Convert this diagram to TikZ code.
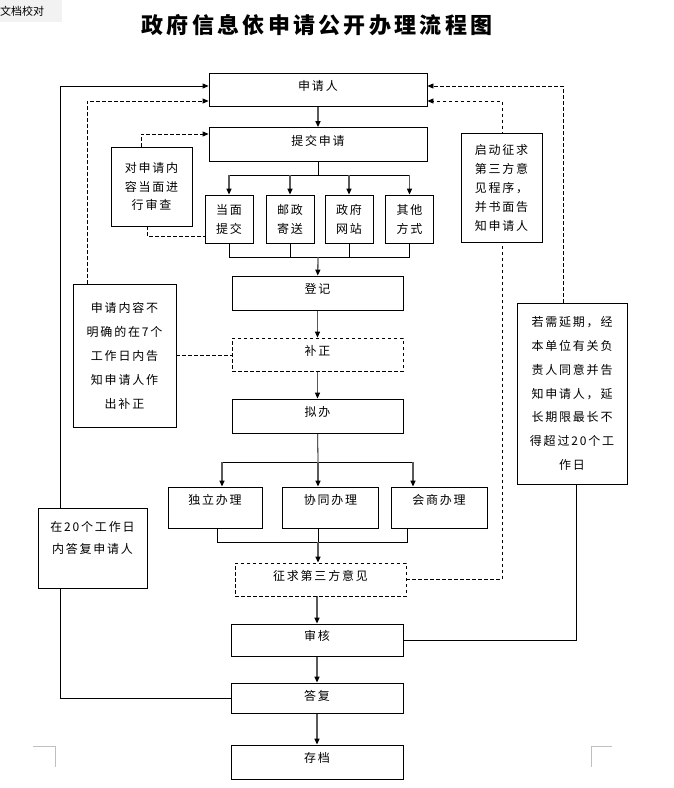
\documentclass[tikz,border=0pt]{standalone}
\usepackage{fontspec}
\setmainfont{Noto Sans CJK SC}[LetterSpace=15]
\usetikzlibrary{arrows.meta, backgrounds}
\tikzstyle{process} = [rectangle, draw=black, line width=0.8pt, fill=white, inner sep=0pt, text centered, text depth=9pt, font=\fontsize{12}{19}\selectfont]
\tikzstyle{pending} = [process, dash pattern=on 3.5pt off 2.5pt]
\tikzstyle{note} = [rectangle, draw=black, line width=0.8pt, fill=white, inner sep=0pt, align=center, font=\fontsize{12}{19}\selectfont]
\tikzstyle{arrow} = [line width=1.3pt, draw=black!65, -{Triangle[length=6pt, width=5pt, color=black]}]
\tikzstyle{link} = [line width=0.8pt, draw=black]
\tikzstyle{dline} = [link, dash pattern=on 3.5pt off 2.5pt]
\tikzstyle{darrow} = [dline, -{Triangle[length=6pt, width=5pt]}]

\begin{document}
\begin{tikzpicture}[x=1pt, y=-1pt]
\useasboundingbox (0,0) rectangle (673,788);

\node (tag) [fill=black!5, anchor=north west, inner sep=0pt, minimum height=22pt, text width=62pt, align=left, font=\fontsize{11}{11}\selectfont\addfontfeature{LetterSpace=0}] at (0,0) {文档校对};
\node (title) at (317,25) {\fontsize{22}{22}\selectfont\bfseries 政府信息依申请公开办理流程图};

\node (applicant) [process, minimum width=218pt, minimum height=33pt] at (318,89.5) {申请人};
\node (submit) [process, minimum width=218pt, minimum height=34pt] at (318,144.5) {提交申请};
\node (inperson) [note, minimum width=48pt, minimum height=48pt] at (229,219) {当面\\提交};
\node (post) [note, minimum width=48pt, minimum height=48pt] at (290,219) {邮政\\寄送};
\node (web) [note, minimum width=48pt, minimum height=48pt] at (349,219) {政府\\网站};
\node (other) [note, minimum width=48pt, minimum height=48pt] at (409.5,219) {其他\\方式};
\node (register) [process, minimum width=171pt, minimum height=34pt] at (317.5,293) {登记};
\node (correct) [pending, minimum width=171pt, minimum height=33pt] at (317.5,354.5) {补正};
\node (draft) [process, minimum width=171pt, minimum height=34pt] at (317.5,416) {拟办};
\node (alone) [process, minimum width=94pt, minimum height=41pt, text depth=17pt] at (215,507.5) {独立办理};
\node (joint) [process, minimum width=96pt, minimum height=41pt, text depth=17pt] at (330.5,507.5) {协同办理};
\node (consult) [process, minimum width=96pt, minimum height=41pt, text depth=17pt] at (439,507.5) {会商办理};
\node (third) [pending, minimum width=171pt, minimum height=33pt] at (320.5,579.5) {征求第三方意见};
\node (review) [process, minimum width=172pt, minimum height=32pt] at (317,640) {审核};
\node (reply) [process, minimum width=172pt, minimum height=30pt, text depth=5pt] at (317,698) {答复};
\node (archive) [process, minimum width=172pt, minimum height=34pt] at (317,762) {存档};

\node (check) [note, minimum width=81pt, minimum height=79pt, font=\fontsize{12}{18.5}\selectfont] at (151.5,186.5) {对申请内\\容当面进\\行审查};
\node (unclear) [note, minimum width=103pt, minimum height=143pt, font=\fontsize{12}{24}\selectfont] at (124.5,355.5) {申请内容不\\明确的在7个\\工作日内告\\知申请人作\\出补正};
\node (within) [note, minimum width=109pt, minimum height=80pt, font=\fontsize{12}{22}\selectfont] at (92.5,548) {在20个工作日\\内答复申请人\\\mbox{}};
\node (start3rd) [note, minimum width=81pt, minimum height=109pt] at (501.5,187.5) {启动征求\\第三方意\\见程序，\\并书面告\\知申请人};
\node (extend) [note, minimum width=110pt, minimum height=181pt, font=\fontsize{12}{23.8}\selectfont] at (572,393.5) {若需延期，经\\本单位有关负\\责人同意并告\\知申请人，延\\长期限最长不\\得超过20个工\\作日};

\coordinate (fork1) at (318,175);
\coordinate (join1) at (318,257);
\coordinate (fork2) at (318,462);
\coordinate (f2l) at (222,462);
\coordinate (f2r) at (413,462);
\coordinate (join2) at (318,542);
\coordinate (j2l) at (217,542);
\coordinate (j2r) at (407,542);
\coordinate (back) at (60,86);
\coordinate (ask) at (87,101);
\coordinate (recheck) at (141,134);
\coordinate (facecheck) at (147,236);
\coordinate (notify) at (502,101);
\coordinate (delay) at (563,86);
\coordinate (approve) at (576,640);

\begin{pgfonlayer}{background}
\draw [arrow] (applicant) -- (submit);
\draw [link] (submit.south) -- (fork1);
\draw [link] (fork1 -| inperson) -- (fork1 -| other);
\draw [arrow] (fork1 -| inperson) -- (inperson.north);
\draw [arrow] (fork1 -| post) -- (post.north);
\draw [arrow] (fork1 -| web) -- (web.north);
\draw [arrow] (fork1 -| other) -- (other.north);
\draw [link] (inperson.south) -- (inperson.south |- join1) -- (other.south |- join1) -- (other.south);
\draw [link] (post.south) -- (post.south |- join1);
\draw [link] (web.south) -- (web.south |- join1);
\draw [arrow] (join1) -- (register);
\draw [arrow] (register) -- (correct);
\draw [arrow] (correct) -- (draft);
\draw [link] (draft) -- (fork2);
\draw [link] (f2l) -- (f2r);
\draw [arrow] (f2l) -- (f2l |- alone.north);
\draw [arrow] (fork2) -- (fork2 |- joint.north);
\draw [arrow] (f2r) -- (f2r |- consult.north);
\draw [link] (j2l |- alone.south) -- (j2l) -- (j2r) -- (j2r |- consult.south);
\draw [link] (join2 |- joint.south) -- (join2);
\draw [arrow] (join2) -- (join2 |- third.north);
\draw [arrow] (third.south -| review) -- (review);
\draw [arrow] (review) -- (reply);
\draw [arrow] (reply) -- (archive);

\draw [link, -{Triangle[length=6pt, width=5pt]}] (reply.west) -| (back) -- (back -| applicant.west);
\draw [darrow] (ask |- unclear.north) -- (ask) -- (ask -| applicant.west);
\draw [dline] (unclear.east) -- (unclear.east -| correct.west);
\draw [darrow] (recheck |- check.north) -- (recheck) -- (recheck -| submit.west);
\draw [dline] (facecheck |- check.south) -- (facecheck) -- (facecheck -| inperson.west);
\draw [darrow] (third.east) -| (notify) -- (notify -| applicant.east);
\draw [darrow] (delay |- extend.north) -- (delay) -- (delay -| applicant.east);
\draw [link] (approve |- extend.south) -- (approve) -- (approve -| review.east);
\end{pgfonlayer}

\draw [black!25] (33,746) -- (55,746) -- (55,767);
\draw [black!25] (612,746) -- (591,746) -- (591,767);
\end{tikzpicture}
\end{document}
